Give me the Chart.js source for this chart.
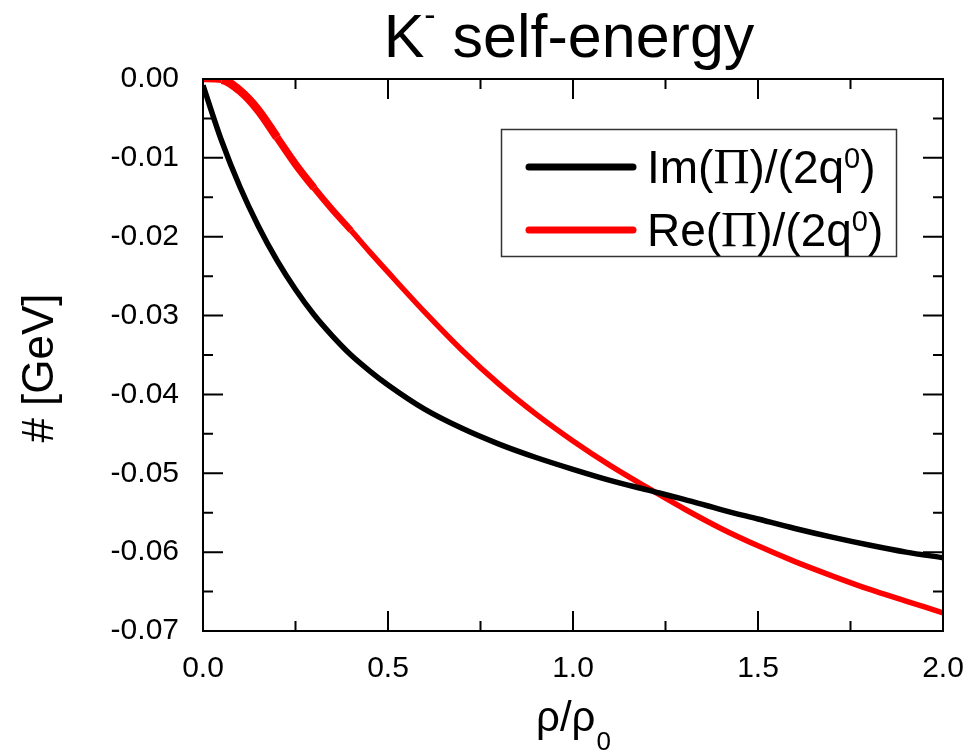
<!DOCTYPE html>
<html>
<head>
<meta charset="utf-8">
<script src="https://cdn.jsdelivr.net/npm/chart.js@4"></script>
<style>
  html, body { margin: 0; padding: 0; background: #fff; }
  #wrap { width: 971px; height: 753px; }
</style>
</head>
<body>
<div id="wrap"><canvas id="myChart" width="971" height="753"></canvas></div>
<script>
// density ratio rho/rho0
const rho = [0, 0.05, 0.1, 0.15, 0.2, 0.25, 0.3, 0.35, 0.4, 0.45, 0.5, 0.6, 0.7, 0.8, 0.9,
  1.0, 1.1, 1.2, 1.3, 1.4, 1.5, 1.6, 1.7, 1.8, 1.9, 2.0];
// Im(Pi)/(2q0) [GeV]
const imPi = [-0.0008, -0.0078, -0.0137, -0.0187, -0.0230, -0.0267, -0.0299, -0.0326, -0.0350,
  -0.0370, -0.0388, -0.0419, -0.0443, -0.0463, -0.0480, -0.0495, -0.0509, -0.0521, -0.0533,
  -0.0546, -0.0558, -0.0570, -0.0581, -0.0591, -0.0600, -0.0607];
// Re(Pi)/(2q0) [GeV]
const rePi = [0.0, -0.0001, -0.0015, -0.0040, -0.0074, -0.0108, -0.0138, -0.0166, -0.0192,
  -0.0219, -0.0245, -0.0296, -0.0344, -0.0387, -0.0425, -0.0459, -0.0490, -0.0518, -0.0545,
  -0.0570, -0.0592, -0.0612, -0.0630, -0.0647, -0.0662, -0.0677];

const xTicks = [0, 0.5, 1.0, 1.5, 2.0];
const xTickLabels = ["0.0", "0.5", "1.0", "1.5", "2.0"];
const yTicks = [0, -0.01, -0.02, -0.03, -0.04, -0.05, -0.06, -0.07];
const yTickLabels = ["0.00", "-0.01", "-0.02", "-0.03", "-0.04", "-0.05", "-0.06", "-0.07"];
const xMinor = [0.25, 0.75, 1.25, 1.75];
const yMinor = [-0.005, -0.015, -0.025, -0.035, -0.045, -0.055, -0.065];

const SANS = "'Liberation Sans', Arial, sans-serif";
const SERIF = "'Liberation Serif', 'Times New Roman', serif";

// draws frame, inward ticks, title, axis titles and legend
const decorations = {
  id: "decorations",
  afterDraw(chart) {
    const ctx = chart.ctx;
    const a = chart.chartArea;
    const xs = chart.scales.x, ys = chart.scales.y;
    ctx.save();
    ctx.strokeStyle = "#000";
    ctx.lineWidth = 2;
    ctx.strokeRect(a.left, a.top, a.right - a.left, a.bottom - a.top);

    ctx.beginPath();
    const tick = (vals, len) => {
      vals.forEach(v => {
        const px = xs.getPixelForValue(v);
        ctx.moveTo(px, a.bottom); ctx.lineTo(px, a.bottom - len);
        ctx.moveTo(px, a.top); ctx.lineTo(px, a.top + len);
      });
    };
    const ytick = (vals, len) => {
      vals.forEach(v => {
        const py = ys.getPixelForValue(v);
        ctx.moveTo(a.left, py); ctx.lineTo(a.left + len, py);
        ctx.moveTo(a.right, py); ctx.lineTo(a.right - len, py);
      });
    };
    tick(xTicks, 20); tick(xMinor, 10);
    ytick(yTicks, 20); ytick(yMinor, 10);
    ctx.stroke();

    ctx.fillStyle = "#000";
    ctx.textBaseline = "alphabetic";
    ctx.textAlign = "left";

    // title: K^- self-energy
    ctx.font = "61px " + SANS;
    const wK = ctx.measureText("K").width;
    ctx.font = "34px " + SANS;
    const wM = ctx.measureText("-").width;
    ctx.font = "61px " + SANS;
    const wRest = ctx.measureText(" self-energy").width;
    let tx = 569 - (wK + wM + wRest) / 2;
    ctx.fillText("K", tx, 57);
    tx += wK;
    ctx.font = "34px " + SANS;
    ctx.fillText("-", tx, 26);
    tx += wM;
    ctx.font = "61px " + SANS;
    ctx.fillText(" self-energy", tx, 57);

    // y axis title
    ctx.save();
    ctx.translate(53, 368);
    ctx.rotate(-Math.PI / 2);
    ctx.textAlign = "center";
    ctx.font = "44px " + SANS;
    ctx.fillText("# [GeV]", 0, 0);
    ctx.restore();

    // x axis title: rho/rho_0
    ctx.font = "42px " + SANS;
    const wr = ctx.measureText("\u03c1/\u03c1").width;
    ctx.font = "26px " + SANS;
    const ws = ctx.measureText("0").width;
    let ax = 573 - (wr + ws) / 2;
    ctx.font = "42px " + SANS;
    ctx.fillText("\u03c1/\u03c1", ax, 731);
    ctx.font = "26px " + SANS;
    ctx.fillText("0", ax + wr + 1, 750);

    // legend
    ctx.lineWidth = 1.5;
    ctx.strokeStyle = "#333";
    ctx.strokeRect(501.5, 129.5, 395, 127);
    const items = [
      { ds: chart.data.datasets[0], y: 167, pre: "Im(" },
      { ds: chart.data.datasets[1], y: 230, pre: "Re(" }
    ];
    items.forEach(it => {
      ctx.beginPath();
      ctx.lineCap = "round";
      ctx.lineWidth = 7;
      ctx.strokeStyle = it.ds.borderColor;
      ctx.moveTo(529, it.y); ctx.lineTo(633, it.y);
      ctx.stroke();
      const base = it.y + 16;
      let lx = 647;
      ctx.font = "46px " + SANS;
      ctx.fillText(it.pre, lx, base); lx += ctx.measureText(it.pre).width;
      ctx.font = "50px " + SERIF;
      ctx.fillText("\u03a0", lx, base); lx += ctx.measureText("\u03a0").width;
      ctx.font = "46px " + SANS;
      ctx.fillText(")/(2q", lx, base); lx += ctx.measureText(")/(2q").width;
      ctx.font = "29px " + SANS;
      ctx.fillText("0", lx, base - 15); lx += ctx.measureText("0").width;
      ctx.font = "46px " + SANS;
      ctx.fillText(")", lx, base);
    });
    ctx.restore();
  }
};

const ctx = document.getElementById("myChart");
new Chart(ctx, {
  type: "line",
  data: {
    datasets: [
      {
        label: "Im(\u03a0)/(2q0)",
        data: rho.map((x, i) => ({ x: x, y: imPi[i] })),
        borderColor: "#000000",
        borderWidth: 5.5,
        pointRadius: 0,
        fill: false,
        cubicInterpolationMode: "monotone"
      },
      {
        label: "Re(\u03a0)/(2q0)",
        data: rho.map((x, i) => ({ x: x, y: rePi[i] })),
        borderColor: "#ff0000",
        borderWidth: 5.5,
        pointRadius: 0,
        fill: false,
        cubicInterpolationMode: "monotone",
        segment: {
          borderWidth: c => {
            const x = c.p0.parsed.x;
            if (x < 0.04) return 6.5;
            if (x < 0.2) return 8.5;
            if (x < 0.3) return 7.5;
            if (x < 0.38) return 6.5;
            return 5.5;
          }
        }
      }
    ]
  },
  options: {
    responsive: false,
    animation: false,
    layout: { padding: { top: 79, right: 28, left: 0, bottom: 0 } },
    plugins: {
      legend: { display: false },
      title: { display: false },
      tooltip: { enabled: false }
    },
    scales: {
      x: {
        type: "linear",
        min: 0,
        max: 2,
        grid: { display: false, drawTicks: false },
        border: { display: false },
        afterFit: s => { s.height = 122; s.paddingLeft = 0; s.paddingRight = 0; },
        afterBuildTicks: s => { s.ticks = xTicks.map(v => ({ value: v })); },
        ticks: {
          padding: 20,
          color: "#000",
          font: { family: SANS, size: 30 },
          maxRotation: 0,
          autoSkip: false,
          callback: (v, i) => xTickLabels[i]
        }
      },
      y: {
        type: "linear",
        min: -0.07,
        max: 0,
        grid: { display: false, drawTicks: false },
        border: { display: false },
        afterFit: s => { s.width = 203; s.paddingTop = 0; s.paddingBottom = 0; },
        afterBuildTicks: s => { s.ticks = yTicks.map(v => ({ value: v })); },
        ticks: {
          padding: 24,
          color: "#000",
          font: { family: SANS, size: 30 },
          autoSkip: false,
          callback: (v, i) => yTickLabels[i]
        }
      }
    }
  },
  plugins: [decorations]
});
</script>
</body>
</html>
